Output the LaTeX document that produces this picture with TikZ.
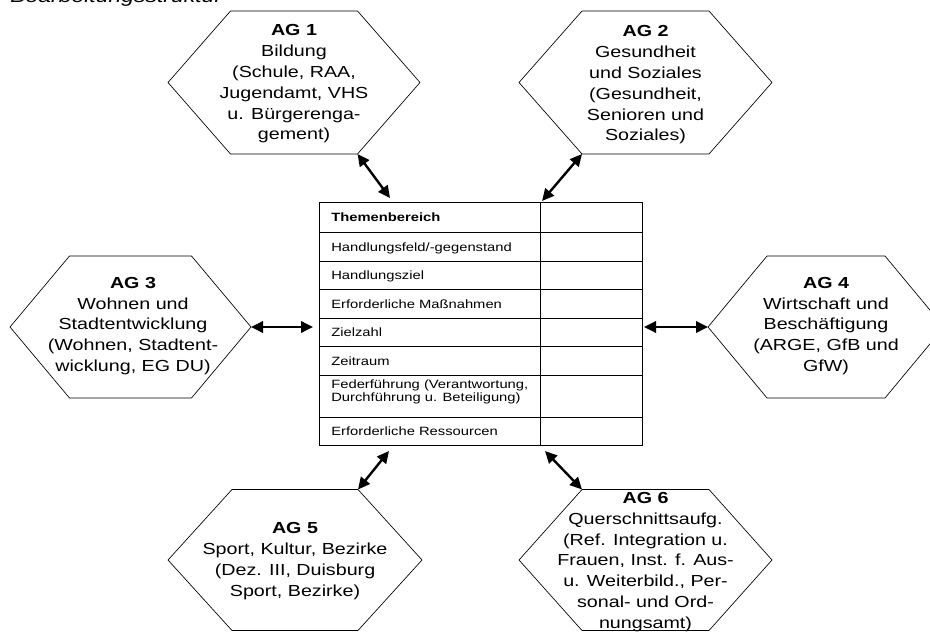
\documentclass[tikz,border=0pt]{standalone}
\usepackage{fontspec}
\setmainfont{Liberation Sans}
\usetikzlibrary{arrows.meta,calc}
\tikzset{
  widen/.style={xscale=1.23, transform shape},
  hexline/.style={draw=black, line width=0.5pt},
  hextext/.style={widen, align=center, font=\fontsize{12}{15.6}\selectfont, inner sep=0pt},
  link/.style={line width=1.8pt, {Triangle[length=9pt,width=8.5pt]}-{Triangle[length=9pt,width=8.5pt]}},
  rowtext/.style={widen, anchor=base west, font=\fontsize{9}{10}\selectfont, inner sep=0pt},
  tabline/.style={draw=black, line width=0.7pt},
  pics/hex/.style n args={3}{code={
    \coordinate (-w) at (-#1,0);
    \coordinate (-nw) at (-#2,-#3);
    \coordinate (-ne) at (#2,-#3);
    \coordinate (-e) at (#1,0);
    \coordinate (-se) at (#2,#3);
    \coordinate (-sw) at (-#2,#3);
    \draw[hexline] (-w) -- (-nw) -- (-ne) -- (-e) -- (-se) -- (-sw) -- cycle;
  }}
}
\begin{document}
\begin{tikzpicture}[x=0.75pt,y=-0.75pt]
\useasboundingbox (0,0) rectangle (930,631);

% title
\begin{scope}[shift={(10,3)}]
\node[widen, anchor=base west, inner sep=0pt, font=\itshape\fontsize{14}{16}\selectfont] (title) at (0,0) {Bearbeitungsstruktur};
\end{scope}

% hexagons
\pic (ag1) at (294,82.5) {hex={126}{63.5}{71.5}};
\pic (ag2) at (645.5,82.5) {hex={126.5}{63.5}{71.5}};
\pic (ag3) at (130.5,327) {hex={120.5}{61}{71}};
\pic (ag4) at (826,327) {hex={118}{59}{71}};
\pic (ag5) at (295,560) {hex={127}{63}{70.5}};
\pic (ag6) at (645.5,560) {hex={126.5}{63.5}{70.5}};

\begin{scope}[shift={(294,84)}]
\node[hextext] (t1) at (0,0) {\textbf{AG 1}\\Bildung\\(Schule, RAA,\\Jugendamt, VHS\\u. Bürgerenga-\\gement)};
\end{scope}
\begin{scope}[shift={(645.5,85)}]
\node[hextext] (t2) at (0,0) {\textbf{AG 2}\\Gesundheit\\und Soziales\\(Gesundheit,\\Senioren und\\Soziales)};
\end{scope}
\begin{scope}[shift={(133,326)}]
\node[hextext] (t3) at (0,0) {\textbf{AG 3}\\Wohnen und\\Stadtentwicklung\\(Wohnen, Stadtent-\\wicklung, EG DU)};
\end{scope}
\begin{scope}[shift={(826,326)}]
\node[hextext] (t4) at (0,0) {\textbf{AG 4}\\Wirtschaft und\\Beschäftigung\\(ARGE, GfB und\\GfW)};
\end{scope}
\begin{scope}[shift={(295,561)}]
\node[hextext] (t5) at (0,0) {\textbf{AG 5}\\Sport, Kultur, Bezirke\\(Dez. III, Duisburg\\Sport, Bezirke)};
\end{scope}
\begin{scope}[shift={(645.5,562)}]
\node[hextext] (t6) at (0,0) {\textbf{AG 6}\\Querschnittsaufg.\\(Ref. Integration u.\\Frauen, Inst. f. Aus-\\u. Weiterbild., Per-\\sonal- und Ord-\\nungsamt)};
\end{scope}

% table
\draw[tabline] (319,202) rectangle (642,445);
\draw[tabline] (540,202) -- (540,445);
\foreach \yy in {232,261,289,318,346,375,417}
  \draw[tabline] (319,\yy) -- (642,\yy);

\begin{scope}[shift={(331,0)}]
\node[rowtext] (r1) at (0,221.5) {\textbf{Themenbereich}};
\node[rowtext] (r2) at (0,251) {Handlungsfeld/-gegenstand};
\node[rowtext] (r3) at (0,279.5) {Handlungsziel};
\node[rowtext] (r4) at (0,308) {Erforderliche Maßnahmen};
\node[rowtext] (r5) at (0,336.5) {Zielzahl};
\node[rowtext] (r6) at (0,365) {Zeitraum};
\node[rowtext] (r7a) at (0,388.5) {Federführung (Verantwortung,};
\node[rowtext] (r7b) at (0,401.5) {Durchführung u. Beteiligung)};
\node[rowtext] (r8) at (0,435.5) {Erforderliche Ressourcen};
\end{scope}

% connector ends at the table
\coordinate (c1) at (390,198);
\coordinate (c2) at (542,201);
\coordinate (c3) at (313,327);
\coordinate (c4) at (644,327);
\coordinate (c5) at (389,451);
\coordinate (c6) at (545,451);

\draw[link] (ag1-se) -- (c1);
\draw[link] (ag2-sw) -- (c2);
\draw[link] (ag3-e) -- (c3);
\draw[link] (c4) -- (ag4-w);
\draw[link] (ag5-ne) -- (c5);
\draw[link] (c6) -- (ag6-nw);
\end{tikzpicture}
\end{document}
